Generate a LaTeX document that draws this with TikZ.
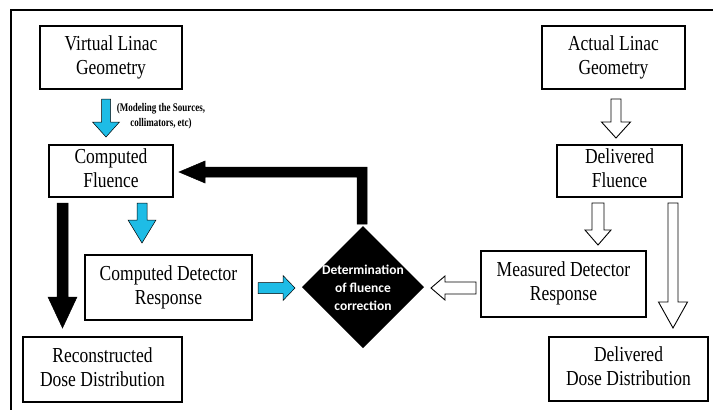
\documentclass[tikz,border=0pt]{standalone}
\usepackage{graphicx}
\usepackage{fontspec}
\setmainfont{Liberation Serif}
\newfontfamily\carlito{Carlito}
\usetikzlibrary{calc}
\definecolor{arrowblue}{RGB}{30,188,230}
\newcommand\bt[1]{\scalebox{1}[1.22]{\fontsize{17.5}{19.5}\selectfont\begin{tabular}{@{}c@{}}#1\end{tabular}}}
% vertical down block arrow: style, xc, ytop, ybase, ytip, stemhalf, headhalf
\newcommand\vdarrow[7]{\draw[#1] ({#2-#6},#3) -- ({#2+#6},#3) -- ({#2+#6},#4) -- ({#2+#7},#4) -- (#2,#5) -- ({#2-#7},#4) -- ({#2-#6},#4) -- cycle;}
% horizontal block arrow: style, yc, xstart, xbase, xtip, stemhalf, headhalf
\newcommand\hzarrow[7]{\draw[#1] (#3,{#2-#6}) -- (#4,{#2-#6}) -- (#4,{#2-#7}) -- (#5,#2) -- (#4,{#2+#7}) -- (#4,{#2+#6}) -- (#3,{#2+#6}) -- cycle;}
\begin{document}
\begin{tikzpicture}[x=1pt,y=-1pt,
  box/.style={draw,line width=1.5pt,inner sep=0pt,anchor=center},
  bluearr/.style={fill=arrowblue,draw=black,line width=0.5pt},
  blackarr/.style={fill=black,draw=black,line width=0.5pt},
  whitearr/.style={fill=white,draw=black,line width=0.9pt},
  frame/.style={line width=1.2pt}]
\useasboundingbox (0,0) rectangle (713,410);
\fill[white] (0,0) rectangle (713,410);
\draw[frame] (713,10) -- (11,10) -- (11,410);
% boxes
\node[box,minimum width=142pt,minimum height=63pt] (vlg) at (111,57.5) {\bt{Virtual Linac\\Geometry}};
\node[box,minimum width=124pt,minimum height=52pt] (cf) at (111,171) {\bt{Computed\\Fluence}};
\node[box,minimum width=167pt,minimum height=65pt] (cdr) at (168.5,287.5) {\bt{Computed Detector\\Response}};
\node[box,minimum width=159pt,minimum height=65pt] (rdd) at (102.5,369.5) {\bt{Reconstructed\\Dose Distribution}};
\node[box,minimum width=143pt,minimum height=63pt] (alg) at (613.5,57.5) {\bt{Actual Linac\\Geometry}};
\node[box,minimum width=125pt,minimum height=52pt] (df) at (619.5,171) {\bt{Delivered\\Fluence}};
\node[box,minimum width=165pt,minimum height=66pt] (mdr) at (563.5,284) {\bt{Measured Detector\\Response}};
\node[box,minimum width=159pt,minimum height=64pt] (ddd) at (628.5,369) {\bt{Delivered\\Dose Distribution}};
% diamond
\fill[black] (363,226) -- (424,287) -- (363,348) -- (302,287) -- cycle;
\node[text=white,align=center,font={\carlito\bfseries\fontsize{13.5}{18}\selectfont}] (det) at (363,288) {Determination\\of fluence\\correction};
% label
\node[inner sep=0pt] (lab) at (161,116) {\scalebox{1}[1.3]{\bfseries\fontsize{9}{12}\selectfont\begin{tabular}{@{}c@{}}(Modeling the Sources,\\collimators, etc)\end{tabular}}};
% blue arrows
\vdarrow{bluearr}{106}{99}{122}{137}{4.5}{13.5}
\vdarrow{bluearr}{142}{203}{220}{243}{5}{14}
\hzarrow{bluearr}{288}{258}{283}{295}{5.5}{12.5}
% black arrows
\vdarrow{blackarr}{62.5}{203}{297}{328}{5.5}{14.5}
\draw[blackarr] (357,224) -- (357,177) -- (205,177) -- (205,183) -- (179,172) -- (205,161) -- (205,167) -- (367,167) -- (367,224) -- cycle;
% white arrows
\vdarrow{whitearr}{616}{99}{122}{138}{5}{14.5}
\vdarrow{whitearr}{598}{203}{230}{245}{6}{13}
\vdarrow{whitearr}{673}{203}{302}{328}{5}{14.5}
\hzarrow{whitearr}{288}{476}{445}{431}{6}{12}
\end{tikzpicture}
\end{document}
